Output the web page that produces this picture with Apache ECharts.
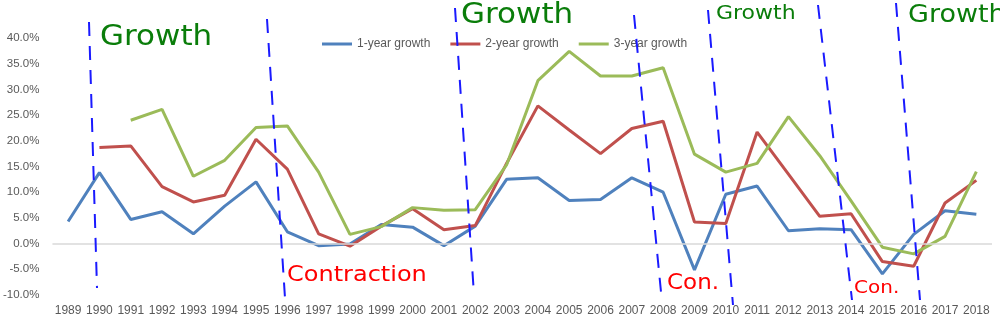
<!DOCTYPE html>
<html>
<head>
<meta charset="utf-8">
<script src="https://cdn.jsdelivr.net/npm/echarts@6/dist/echarts.min.js"></script>
<style>
html,body{margin:0;padding:0;background:#fff;}
#chart{width:1000px;height:326px;}
</style>
</head>
<body>
<div id="chart"></div>
<script>
var years = ['1989','1990','1991','1992','1993','1994','1995','1996','1997','1998','1999','2000','2001','2002','2003','2004','2005','2006','2007','2008','2009','2010','2011','2012','2013','2014','2015','2016','2017','2018'];
var growth1 = [4.3,13.8,4.7,6.2,1.9,7.3,12.0,2.3,-0.4,-0.1,3.7,3.2,-0.4,3.4,12.5,12.8,8.4,8.6,12.8,10.0,-5.1,9.6,11.2,2.5,2.9,2.7,-5.9,1.8,6.4,5.7];
var growth2 = [null,18.7,19.0,11.1,8.1,9.4,20.3,14.5,1.9,-0.5,3.4,6.8,2.7,3.5,15.6,26.8,22.1,17.5,22.4,23.8,4.2,3.9,21.7,13.5,5.3,5.8,-3.5,-4.4,7.9,12.3];
var growth3 = [null,null,24.0,26.1,13.1,16.2,22.6,22.9,13.9,1.8,3.3,7.0,6.5,6.6,15.3,31.7,37.4,32.6,32.6,34.2,17.4,13.9,15.6,24.7,17.1,8.3,-0.7,-2.0,1.4,14.0];
var seriesNames = ['1-year growth','2-year growth','3-year growth'];
var yTicks = [-10,-5,0,5,10,15,20,25,30,35,40];

// hand-drawn annotations
var notes = [
  {text:'Growth', x:100, y:41, size:31, color:'#0a7d0a'},
  {text:'Growth', x:461, y:19, size:31, color:'#0a7d0a'},
  {text:'Growth', x:716, y:16, size:22, color:'#0a7d0a'},
  {text:'Growth', x:908, y:18, size:27, color:'#0a7d0a'},
  {text:'Contraction', x:287, y:278, size:24, color:'#ff0000'},
  {text:'Con.', x:667, y:286, size:23, color:'#ff0000'},
  {text:'Con.', x:854, y:290, size:20, color:'#ff0000'}
];
var dashes = [
  [89,22,97,288],
  [267,19,285,298],
  [455,8,474,295],
  [634,15,661,292],
  [708,10,733,305],
  [818,5,852,300],
  [896,3,920,300]
];

var chart = echarts.init(document.getElementById('chart'), null, {renderer:'canvas'});
var colors = ['#4f81bd','#c0504d','#9bbb59'];
var graphics = [];
dashes.forEach(function(d){
  graphics.push({type:'line', z:100, silent:true,
    shape:{x1:d[0],y1:d[1],x2:d[2],y2:d[3]},
    style:{stroke:'#1a1aff', lineWidth:2, lineDash:[14,10]}});
});
notes.forEach(function(n){
  graphics.push({type:'text', z:101, silent:true, left:n.x, top:n.y - n.size*0.55,
    scaleY:0.9,
    style:{text:n.text, fill:n.color, font:'normal ' + n.size + 'px "DejaVu Sans"'}});
});

var option = {
  animation:false,
  color: colors,
  grid:{left:49, right:8, top:38, bottom:31},
  legend:{
    data: seriesNames,
    left:322, top:38, padding:0,
    icon:'rect', itemWidth:30, itemHeight:3, itemGap:20,
    textStyle:{color:'#595959', fontSize:12, fontFamily:'Liberation Sans'}
  },
  xAxis:{
    type:'category', data: years, boundaryGap:true,
    axisLine:{show:false}, axisTick:{show:false},
    axisLabel:{color:'#595959', fontSize:12, fontFamily:'Liberation Sans', margin:10, interval:0}
  },
  yAxis:{
    type:'value', min:yTicks[0], max:yTicks[yTicks.length-1], interval:5,
    axisLine:{show:false}, axisTick:{show:false}, splitLine:{show:false},
    axisLabel:{color:'#595959', fontSize:11.5, fontFamily:'Liberation Sans', margin:13,
      formatter:function(v){return v.toFixed(1)+'%';}}
  },
  graphic: graphics,
  series:[
    {name:'zero', type:'line', data:[], z:1, silent:true,
      markLine:{silent:true, symbol:'none', label:{show:false},
        lineStyle:{color:'#d9d9d9', type:'solid', width:1.5},
        data:[{yAxis:0}]}},
    {name:seriesNames[0], type:'line', data:growth1, symbol:'none', z:3,
      lineStyle:{width:3, color:colors[0]}, itemStyle:{color:colors[0]}},
    {name:seriesNames[1], type:'line', data:growth2, symbol:'none', z:3,
      lineStyle:{width:3, color:colors[1]}, itemStyle:{color:colors[1]}},
    {name:seriesNames[2], type:'line', data:growth3, symbol:'none', z:3,
      lineStyle:{width:3, color:colors[2]}, itemStyle:{color:colors[2]}}
  ]
};
chart.setOption(option);
</script>
</body>
</html>
